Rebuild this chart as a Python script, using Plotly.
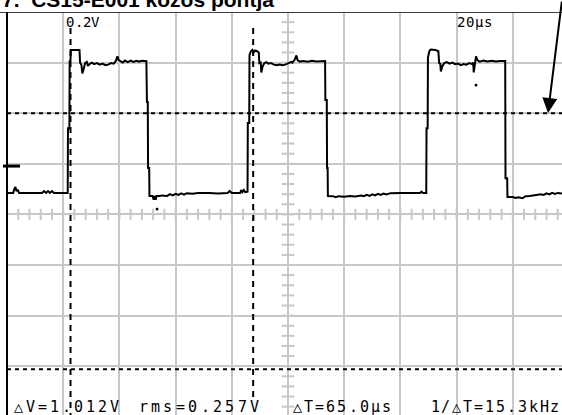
import numpy as np
import plotly.graph_objects as go

# scope settings: 20 us/div, 0.2 V/div, trace in us / V
time_us = [0, 2.2, 2.6, 3.0, 3.4, 3.8, 4.3, 12.5, 13.2, 13.9, 14.6, 15.3, 16.0, 16.7, 21.6,
           21.7, 22.2, 22.3, 22.6, 22.7, 25.8, 26.0, 26.5, 26.8, 27.3, 27.8, 28.4, 28.8, 29.5,
           30.2, 31.0, 32.0, 33.0, 34.0, 35.0, 36.0, 37.0, 38.0, 38.7, 39.3, 39.7, 40.4, 41.2,
           42.0, 43.0, 44.0, 45.0, 46.0, 47.0, 48.0, 49.6, 49.8, 50.1, 50.2, 50.6, 50.7, 51.8,
           52.2, 52.5, 52.9, 53.2, 54.5, 55.0, 57.0, 58.0, 59.0, 60.0, 61.0, 62.0, 63.0, 64.0,
           66.0, 68.0, 72.0, 75.0, 78.5, 79.2, 80.0, 83.0, 83.4, 83.8, 84.3, 84.8, 85.6,
           85.7, 86.2, 86.3, 86.8, 87.3, 87.8, 88.3, 89.0, 89.6, 89.8, 90.3, 90.5, 91.0, 91.6,
           92.3, 93.0, 94.0, 95.0, 96.0, 97.0, 98.0, 99.0, 99.8, 100.6, 101.2, 101.6, 102.3,
           103.0, 103.4, 104.2, 105.5, 107.0, 108.5, 110.0, 111.5, 113.2, 113.3, 113.8, 113.9,
           114.1, 114.2, 116.0, 117.0, 118.0, 120.0, 122.0, 124.0, 126.0, 127.0, 128.0, 129.0,
           130.0, 131.0, 132.0, 133.0, 134.0, 135.0, 136.5, 140.0, 144.0, 147.0, 147.5, 148.0,
           149.2, 149.3, 149.7, 149.8, 150.3, 150.8, 152.5, 153.5, 153.8, 154.2, 154.4, 154.9,
           155.6, 156.5, 157.5, 158.5, 159.5, 160.5, 161.5, 162.5, 163.5, 164.5, 165.5, 165.9,
           166.1, 166.5, 166.9, 167.4, 168.2, 169.5, 171.0, 172.5, 174.0, 175.5, 177.3, 177.4,
           178.0, 178.1, 180.0, 181.0, 182.0, 183.5, 184.5, 186.0, 188.0, 190.0, 191.0, 192.0,
           193.0, 194.0, 195.0, 196.0, 197.5]
volts = [0.085, 0.085, 0.100, 0.108, 0.092, 0.098, 0.085, 0.085, 0.092, 0.085, 0.092, 0.085,
         0.092, 0.085, 0.085,
         0.341, 0.341, 0.606, 0.610, 0.650, 0.650, 0.600, 0.590, 0.557, 0.575, 0.598, 0.603,
         0.587, 0.595, 0.600, 0.594, 0.598, 0.592, 0.596, 0.590, 0.592, 0.598, 0.596, 0.606,
         0.625, 0.610, 0.606, 0.600, 0.608, 0.602, 0.608, 0.603, 0.607, 0.604, 0.607, 0.606,
         0.444, 0.444, 0.183, 0.183, 0.073, 0.073, 0.058, 0.073, 0.058, 0.073, 0.073, 0.075,
         0.073, 0.080, 0.075, 0.081, 0.077, 0.083, 0.078, 0.084, 0.082, 0.085, 0.085, 0.083,
         0.085, 0.092, 0.085, 0.085, 0.096, 0.088, 0.096, 0.088, 0.090,
         0.361, 0.361, 0.630, 0.645, 0.650, 0.640, 0.648, 0.645, 0.640, 0.598, 0.600, 0.561,
         0.585, 0.598, 0.602, 0.596, 0.598, 0.592, 0.590, 0.592, 0.590, 0.592, 0.595, 0.598,
         0.603, 0.600, 0.610, 0.628, 0.610, 0.604, 0.606, 0.603, 0.607, 0.604, 0.606, 0.606,
         0.452, 0.452, 0.183, 0.183, 0.073, 0.072, 0.068, 0.072, 0.070, 0.073, 0.071, 0.075,
         0.072, 0.077, 0.073, 0.079, 0.075, 0.081, 0.077, 0.082, 0.079, 0.084, 0.085, 0.085,
         0.085, 0.090, 0.085, 0.085,
         0.341, 0.341, 0.620, 0.645, 0.652, 0.650, 0.645, 0.598, 0.595, 0.565, 0.585, 0.598,
         0.602, 0.596, 0.600, 0.594, 0.596, 0.590, 0.594, 0.592, 0.598, 0.594, 0.600, 0.561,
         0.600, 0.625, 0.610, 0.604, 0.608, 0.604, 0.607, 0.604, 0.606, 0.606, 0.143, 0.143,
         0.069, 0.069, 0.065, 0.068, 0.064, 0.072, 0.073, 0.077, 0.080, 0.077, 0.083, 0.079,
         0.085, 0.081, 0.085, 0.083]

glitch_t = [53.4, 166.9]
glitch_v = [0.021, 0.511]

cursor_t = [22.6, 87.6]        # dT = 65.0 us
cursor_v = [0.400, -0.612]     # dV = 1.012 V
ground_v = 0.191

title = "7.  CS15-E001 közös pontja"
volt_div = "0.2V"
time_div = "20µs"
readouts = ["△V=1.012V", "rms=0.257V", "△T=65.0µs", "1/△T=15.3kHz"]

W, H = 562, 415
L, T = 7, 12
X_MAX = (W - L) / 56.2 * 20
Y_MIN = 0.8 - (H - T) / 50.6 * 0.2


def px(x):
    return (x - L) / (W - L)


def py(y):
    return (H - y) / (H - T)


def lcd_text(fig, text, x0, y, pitch, size=14):
    # scope font is fixed pitch, place char by char
    for i, ch in enumerate(text):
        fig.add_annotation(x=px(x0 + i * pitch), y=py(y), xref='paper', yref='paper',
                           text=ch, showarrow=False, xanchor='center', yanchor='middle',
                           font=dict(family='DejaVu Sans Mono', size=size, color='black'))


fig = go.Figure()

# small division ticks on the centre cross
minor_t = np.arange(0, X_MAX, 4)
minor_v = np.arange(-0.8, 0.81, 0.04)
fig.add_trace(go.Scatter(x=minor_t, y=np.zeros(len(minor_t)), mode='markers',
                         marker=dict(symbol='line-ns', size=8, line=dict(width=2, color='#c8c8c8')),
                         hoverinfo='skip'))
fig.add_trace(go.Scatter(x=np.full(len(minor_v), 100), y=minor_v, mode='markers',
                         marker=dict(symbol='line-ew', size=9, line=dict(width=2, color='#c8c8c8')),
                         hoverinfo='skip'))

# cursors
for t in cursor_t:
    y_end = Y_MIN if t == cursor_t[0] else -0.735
    fig.add_shape(type='line', x0=t, x1=t, y0=0.737, y1=y_end,
                  line=dict(color='black', width=2, dash='6px,5px'))
for v in cursor_v:
    fig.add_shape(type='line', x0=0, x1=X_MAX, y0=v, y1=v,
                  line=dict(color='black', width=2, dash='4px,4px'))

fig.add_trace(go.Scatter(x=time_us, y=volts, mode='lines',
                         line=dict(color='black', width=2), hoverinfo='skip'))
fig.add_trace(go.Scatter(x=glitch_t, y=glitch_v, mode='markers',
                         marker=dict(symbol='square', size=2.5, color='black'), hoverinfo='skip'))

# frame, ground marker
fig.add_shape(type='line', xref='paper', yref='paper', x0=0, x1=0, y0=0, y1=1,
              line=dict(color='black', width=2))
fig.add_shape(type='line', xref='paper', x0=px(0), x1=1, y0=0.8, y1=0.8,
              line=dict(color='black', width=1.5))
fig.add_shape(type='line', xref='paper', x0=px(3), x1=px(20), y0=ground_v, y1=ground_v,
              line=dict(color='black', width=3))

fig.add_annotation(x=px(0), y=py(13.5), xref='paper', yref='paper', text=title,
                   showarrow=False, xanchor='left', yanchor='bottom',
                   font=dict(family='Liberation Sans', size=21, color='black', weight='bold'))
fig.add_annotation(x=px(548), y=py(113), xref='paper', yref='paper', text='',
                   showarrow=True, arrowhead=2, arrowsize=1.5, arrowwidth=2, arrowcolor='black',
                   ax=16, ay=-118)

lcd_text(fig, volt_div, 70, 22, 8.6)
lcd_text(fig, time_div, 461, 22, 9)
lcd_text(fig, readouts[0], 18, 407, 12.1, 15)
lcd_text(fig, readouts[1], 143, 407, 12.4, 15)
lcd_text(fig, readouts[2], 297, 407, 11.2, 15)
lcd_text(fig, readouts[3], 435, 407, 10.9, 15)

fig.update_layout(
    width=W, height=H,
    margin=dict(l=L, r=0, t=T, b=0),
    paper_bgcolor='white', plot_bgcolor='white',
    showlegend=False,
    xaxis=dict(range=[0, X_MAX], tick0=0, dtick=20, showgrid=True, gridcolor='#c8c8c8',
               gridwidth=2, zeroline=False, showticklabels=False, ticks=''),
    yaxis=dict(range=[Y_MIN, 0.8], tick0=0, dtick=0.2, showgrid=True, gridcolor='#c8c8c8',
               gridwidth=2, zeroline=False, showticklabels=False, ticks=''),
)

fig.write_html("out.html", config={'displayModeBar': False},
               post_script="document.body.style.margin='0';")
